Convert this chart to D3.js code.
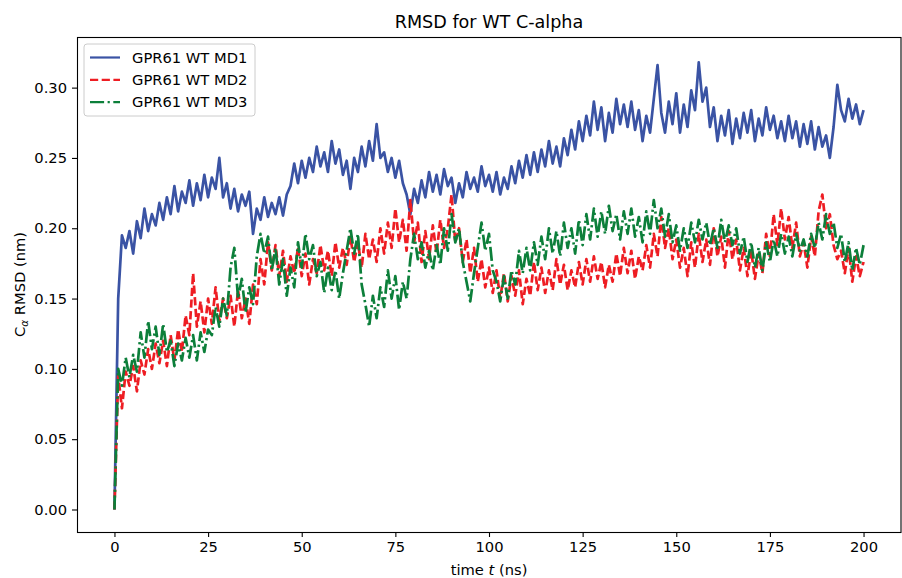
<!DOCTYPE html>
<html>
<head>
<meta charset="utf-8">
<script src="https://cdn.jsdelivr.net/npm/d3@7"></script>
<style>
  body { margin: 0; background: #fff; }
  svg { display: block; font-family: 'DejaVu Sans', sans-serif; }
</style>
</head>
<body>
<script>
'use strict';

const WIDTH = 902;
const HEIGHT = 578;

const MARGIN = {top: 37, right: 1, bottom: 46, left: 77};

const TITLE = 'RMSD for WT C-alpha';

const X_DOMAIN = [-10, 210];
const Y_DOMAIN = [-0.016, 0.336];
const X_TICKS = [0, 25, 50, 75, 100, 125, 150, 175, 200];
const Y_TICKS = [0.00, 0.05, 0.10, 0.15, 0.20, 0.25, 0.30];

const SERIES_NAMES = ['GPR61 WT MD1', 'GPR61 WT MD2', 'GPR61 WT MD3'];
const SERIES_COLORS = ['#3a53a4', '#ee1d23', '#0c7f3a'];
const SERIES_DASHES = ['none', '8.2,3.5', '14.1,3.5,2.2,3.5'];
const LINE_WIDTH = 2.2;
const TRACE_WIDTH = 2.7;

const FONT_SIZE = 14.7;
const TITLE_SIZE = 17.6;

// Simulation time in ns, one sample per ns.
const TIME_NS = d3.range(0, 201);

// RMSD values (nm), one per ns.
const MD1_RMSD = [
    0.000, 0.150, 0.195, 0.186, 0.198, 0.182, 0.205, 0.193, 0.214, 0.198,
    0.210, 0.202, 0.218, 0.206, 0.222, 0.210, 0.230, 0.212, 0.226, 0.218,
    0.234, 0.216, 0.232, 0.220, 0.238, 0.222, 0.236, 0.228, 0.250, 0.222,
    0.232, 0.214, 0.228, 0.212, 0.224, 0.216, 0.226, 0.196, 0.214, 0.206,
    0.222, 0.208, 0.218, 0.210, 0.222, 0.209, 0.224, 0.230, 0.246, 0.232,
    0.248, 0.236, 0.250, 0.240, 0.258, 0.244, 0.254, 0.240, 0.262, 0.246,
    0.256, 0.238, 0.248, 0.228, 0.250, 0.240, 0.258, 0.244, 0.262, 0.248,
    0.274, 0.250, 0.254, 0.240, 0.250, 0.236, 0.248, 0.232, 0.224, 0.210,
    0.228, 0.218, 0.234, 0.222, 0.240, 0.226, 0.238, 0.224, 0.242, 0.230,
    0.236, 0.218, 0.232, 0.222, 0.240, 0.228, 0.236, 0.226, 0.244, 0.230,
    0.238, 0.226, 0.240, 0.224, 0.236, 0.228, 0.244, 0.232, 0.248, 0.236,
    0.252, 0.238, 0.254, 0.240, 0.256, 0.244, 0.262, 0.246, 0.258, 0.244,
    0.264, 0.252, 0.270, 0.256, 0.276, 0.262, 0.280, 0.266, 0.290, 0.270,
    0.286, 0.262, 0.282, 0.268, 0.292, 0.274, 0.288, 0.272, 0.290, 0.270,
    0.284, 0.262, 0.280, 0.268, 0.292, 0.316, 0.282, 0.268, 0.290, 0.274,
    0.296, 0.268, 0.288, 0.272, 0.298, 0.284, 0.318, 0.290, 0.300, 0.272,
    0.286, 0.262, 0.280, 0.266, 0.284, 0.260, 0.278, 0.264, 0.282, 0.268,
    0.284, 0.262, 0.278, 0.266, 0.286, 0.270, 0.280, 0.264, 0.276, 0.262,
    0.280, 0.264, 0.276, 0.258, 0.274, 0.260, 0.276, 0.256, 0.272, 0.258,
    0.266, 0.250, 0.272, 0.302, 0.284, 0.276, 0.292, 0.278, 0.288, 0.274,
    0.284
];

const MD2_RMSD = [
    0.000, 0.095, 0.072, 0.098, 0.088, 0.102, 0.084, 0.106, 0.096, 0.114,
    0.100, 0.118, 0.104, 0.120, 0.102, 0.124, 0.106, 0.128, 0.112, 0.138,
    0.124, 0.168, 0.130, 0.148, 0.126, 0.150, 0.132, 0.158, 0.134, 0.150,
    0.136, 0.152, 0.130, 0.156, 0.136, 0.150, 0.132, 0.160, 0.146, 0.178,
    0.160, 0.190, 0.170, 0.188, 0.166, 0.184, 0.162, 0.180, 0.168, 0.186,
    0.166, 0.182, 0.160, 0.178, 0.168, 0.188, 0.170, 0.184, 0.166, 0.190,
    0.172, 0.186, 0.174, 0.194, 0.176, 0.190, 0.172, 0.196, 0.178, 0.192,
    0.176, 0.200, 0.182, 0.204, 0.186, 0.214, 0.190, 0.206, 0.184, 0.220,
    0.190, 0.204, 0.176, 0.198, 0.178, 0.202, 0.182, 0.206, 0.186, 0.200,
    0.224, 0.190, 0.200, 0.176, 0.192, 0.168, 0.186, 0.162, 0.178, 0.158,
    0.172, 0.154, 0.170, 0.150, 0.168, 0.148, 0.166, 0.152, 0.170, 0.146,
    0.164, 0.152, 0.176, 0.156, 0.172, 0.154, 0.170, 0.156, 0.178, 0.160,
    0.174, 0.156, 0.170, 0.158, 0.176, 0.160, 0.178, 0.162, 0.180, 0.164,
    0.176, 0.158, 0.174, 0.162, 0.182, 0.166, 0.186, 0.168, 0.184, 0.164,
    0.180, 0.170, 0.188, 0.172, 0.196, 0.180, 0.208, 0.186, 0.200, 0.178,
    0.192, 0.172, 0.186, 0.166, 0.190, 0.172, 0.196, 0.176, 0.192, 0.174,
    0.200, 0.180, 0.194, 0.172, 0.198, 0.178, 0.192, 0.170, 0.186, 0.166,
    0.184, 0.164, 0.182, 0.168, 0.196, 0.180, 0.210, 0.188, 0.214, 0.192,
    0.208, 0.186, 0.204, 0.180, 0.190, 0.172, 0.194, 0.180, 0.212, 0.224,
    0.200, 0.210, 0.188, 0.178, 0.184, 0.168, 0.186, 0.162, 0.180, 0.166,
    0.176
];

const MD3_RMSD = [
    0.000, 0.100, 0.088, 0.108, 0.094, 0.110, 0.098, 0.126, 0.108, 0.134,
    0.114, 0.130, 0.110, 0.132, 0.112, 0.120, 0.102, 0.118, 0.106, 0.122,
    0.108, 0.124, 0.106, 0.126, 0.112, 0.128, 0.124, 0.144, 0.130, 0.150,
    0.138, 0.172, 0.186, 0.150, 0.164, 0.140, 0.158, 0.146, 0.180, 0.196,
    0.182, 0.194, 0.170, 0.186, 0.160, 0.178, 0.152, 0.172, 0.158, 0.190,
    0.172, 0.196, 0.178, 0.188, 0.166, 0.176, 0.154, 0.172, 0.156, 0.170,
    0.150, 0.168, 0.184, 0.200, 0.182, 0.196, 0.160, 0.146, 0.130, 0.152,
    0.136, 0.158, 0.144, 0.170, 0.150, 0.166, 0.142, 0.162, 0.150, 0.178,
    0.196, 0.178, 0.190, 0.172, 0.184, 0.170, 0.188, 0.174, 0.200, 0.184,
    0.210, 0.190, 0.200, 0.176, 0.162, 0.148, 0.168, 0.186, 0.204, 0.184,
    0.196, 0.170, 0.162, 0.148, 0.166, 0.150, 0.170, 0.160, 0.184, 0.168,
    0.186, 0.170, 0.190, 0.174, 0.194, 0.178, 0.200, 0.182, 0.198, 0.180,
    0.204, 0.186, 0.200, 0.182, 0.206, 0.188, 0.210, 0.192, 0.214, 0.194,
    0.212, 0.196, 0.216, 0.198, 0.210, 0.192, 0.212, 0.196, 0.214, 0.194,
    0.208, 0.190, 0.212, 0.196, 0.220, 0.200, 0.214, 0.194, 0.210, 0.190,
    0.202, 0.184, 0.200, 0.186, 0.204, 0.190, 0.206, 0.192, 0.204, 0.188,
    0.200, 0.186, 0.206, 0.190, 0.202, 0.188, 0.200, 0.182, 0.194, 0.176,
    0.190, 0.172, 0.186, 0.170, 0.190, 0.176, 0.192, 0.180, 0.196, 0.182,
    0.194, 0.180, 0.196, 0.184, 0.192, 0.180, 0.196, 0.186, 0.204, 0.192,
    0.210, 0.196, 0.204, 0.186, 0.196, 0.176, 0.190, 0.170, 0.186, 0.174,
    0.188
];

const SERIES_VALUES = [MD1_RMSD, MD2_RMSD, MD3_RMSD];

function main() {
    let innerRight = WIDTH - MARGIN.right;
    let innerBottom = HEIGHT - MARGIN.bottom;

    let x = d3.scaleLinear()
            .domain(X_DOMAIN)
            .range([MARGIN.left, innerRight]);

    let y = d3.scaleLinear()
            .domain(Y_DOMAIN)
            .range([innerBottom, MARGIN.top]);

    let svg = d3.select('body')
            .append('svg')
            .attr('width', WIDTH)
            .attr('height', HEIGHT);

    // Clip the traces to the axes box.
    svg.append('clipPath')
            .attr('id', 'plot-clip')
            .append('rect')
            .attr('x', MARGIN.left)
            .attr('y', MARGIN.top)
            .attr('width', innerRight - MARGIN.left)
            .attr('height', innerBottom - MARGIN.top);

    let line = d3.line()
            .x((d, i) => x(TIME_NS[i]))
            .y(d => y(d));

    let traces = svg.append('g')
            .attr('clip-path', 'url(#plot-clip)');

    SERIES_VALUES.forEach(function(values, i) {
        traces.append('path')
                .datum(values)
                .attr('d', line)
                .attr('fill', 'none')
                .attr('stroke', SERIES_COLORS[i])
                .attr('stroke-width', TRACE_WIDTH)
                .attr('stroke-dasharray', SERIES_DASHES[i])
                .attr('stroke-linejoin', 'round');
    });

    // Axes.
    let xAxis = svg.append('g')
            .attr('transform', `translate(0,${innerBottom})`)
            .call(d3.axisBottom(x)
                    .tickValues(X_TICKS)
                    .tickSize(5)
                    .tickPadding(5)
                    .tickFormat(d3.format('d')));

    let yAxis = svg.append('g')
            .attr('transform', `translate(${MARGIN.left},0)`)
            .call(d3.axisLeft(y)
                    .tickValues(Y_TICKS)
                    .tickSize(5)
                    .tickPadding(5)
                    .tickFormat(d3.format('.2f')));

    [xAxis, yAxis].forEach(function(axis) {
        axis.select('.domain').remove();
        axis.selectAll('text')
                .attr('font-family', "'DejaVu Sans', sans-serif")
                .attr('font-size', FONT_SIZE)
                .attr('fill', '#000');
        axis.selectAll('line')
                .attr('stroke', '#000')
                .attr('stroke-width', 1.1);
    });

    // Axes box.
    svg.append('rect')
            .attr('x', MARGIN.left + 0.5)
            .attr('y', MARGIN.top + 0.5)
            .attr('width', innerRight - MARGIN.left - 0.5)
            .attr('height', innerBottom - MARGIN.top)
            .attr('fill', 'none')
            .attr('stroke', '#000')
            .attr('stroke-width', 1.1);

    // Title.
    svg.append('text')
            .attr('x', (MARGIN.left + innerRight) / 2)
            .attr('y', 28)
            .attr('text-anchor', 'middle')
            .attr('font-size', TITLE_SIZE)
            .text(TITLE);

    // X label.
    let xLabel = svg.append('text')
            .attr('x', (MARGIN.left + innerRight) / 2)
            .attr('y', 575)
            .attr('text-anchor', 'middle')
            .attr('font-size', FONT_SIZE);
    xLabel.append('tspan').text('time ');
    xLabel.append('tspan').attr('font-style', 'italic').text('t');
    xLabel.append('tspan').text(' (ns)');

    // Y label.
    let yLabel = svg.append('text')
            .attr('transform', `translate(25,${(MARGIN.top + innerBottom) / 2}) rotate(-90)`)
            .attr('text-anchor', 'middle')
            .attr('font-size', FONT_SIZE);
    yLabel.append('tspan').text('C');
    yLabel.append('tspan')
            .attr('font-size', 10.5)
            .attr('font-style', 'italic')
            .attr('dy', 3)
            .text('α');
    yLabel.append('tspan').attr('dy', -3).text(' RMSD (nm)');

    // Legend.
    let legend = svg.append('g')
            .attr('transform', `translate(${MARGIN.left + 7},${MARGIN.top + 7})`);

    legend.append('rect')
            .attr('width', 171)
            .attr('height', 72)
            .attr('rx', 3)
            .attr('fill', '#fff')
            .attr('fill-opacity', 0.8)
            .attr('stroke', '#ccc')
            .attr('stroke-width', 1);

    SERIES_NAMES.forEach(function(name, i) {
        let rowY = 13.5 + i * 22.3;

        legend.append('line')
                .attr('x1', 6)
                .attr('x2', 36)
                .attr('y1', rowY)
                .attr('y2', rowY)
                .attr('stroke', SERIES_COLORS[i])
                .attr('stroke-width', LINE_WIDTH)
                .attr('stroke-dasharray', SERIES_DASHES[i]);

        legend.append('text')
                .attr('x', 48)
                .attr('y', rowY + 5)
                .attr('font-size', FONT_SIZE)
                .text(name);
    });
}

document.addEventListener('DOMContentLoaded', function(event) {
    main();
});
</script>
</body>
</html>
